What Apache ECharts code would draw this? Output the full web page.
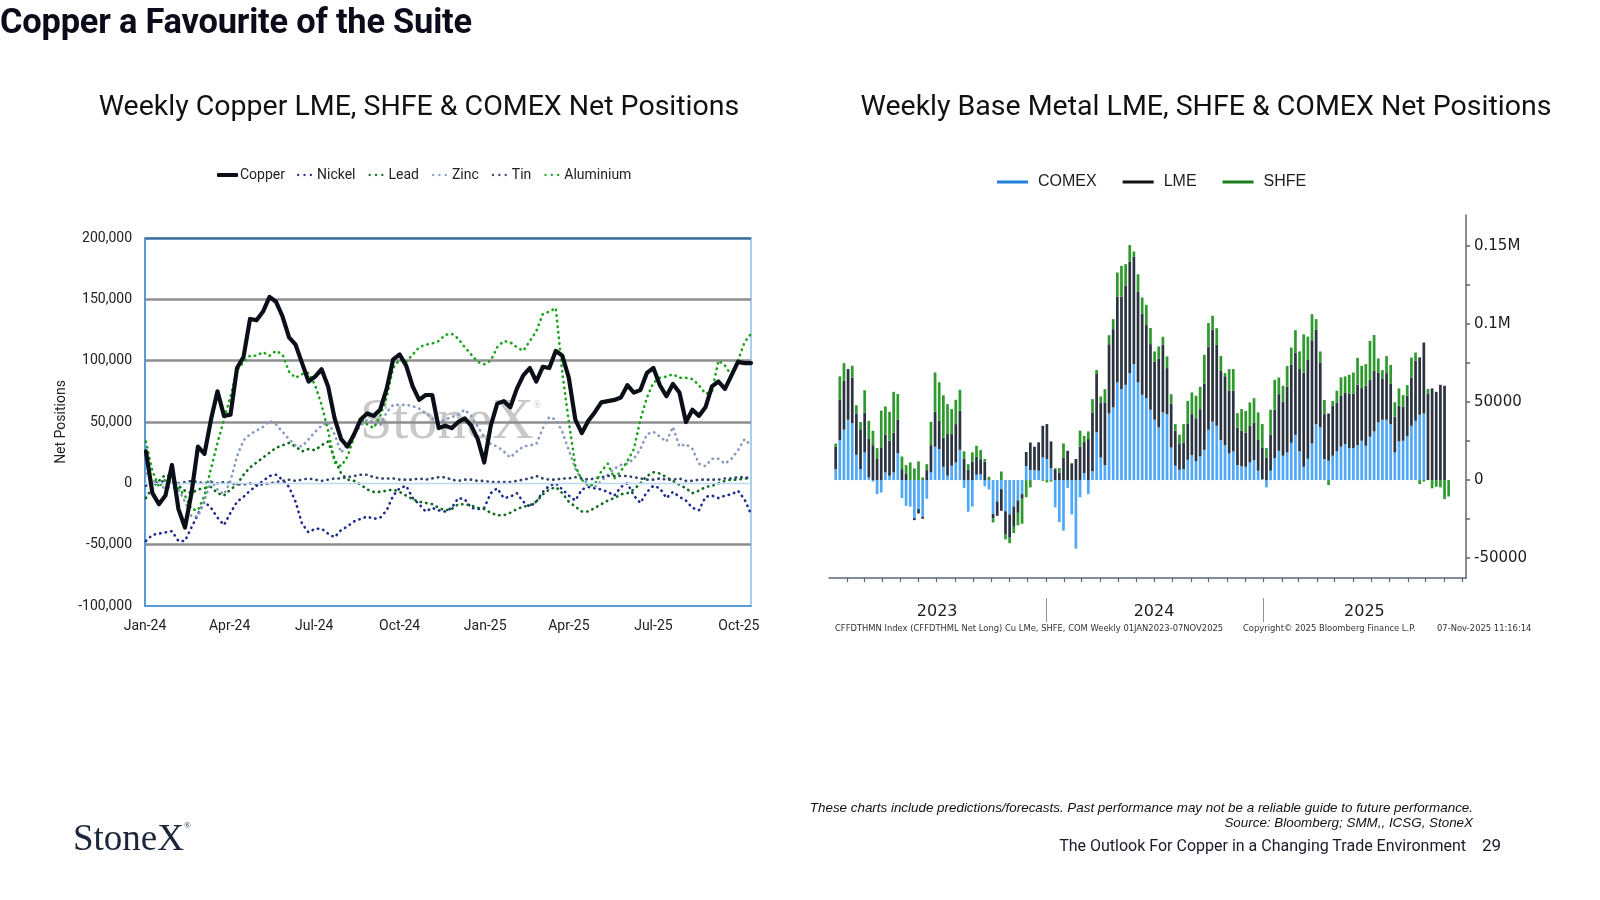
<!DOCTYPE html>
<html>
<head>
<meta charset="utf-8">
<script src="https://cdn.jsdelivr.net/npm/echarts@6.0.0/dist/echarts.min.js"></script>
<style>
html,body{margin:0;padding:0;background:#fff;}
body{width:1600px;height:900px;position:relative;overflow:hidden;}
#chart{position:absolute;left:0;top:0;width:1600px;height:900px;}
.t{position:absolute;white-space:nowrap;pointer-events:none;}
</style>
</head>
<body>
<div id="chart"></div>
<div class="t" style="left:0;top:1px;font:700 34.4px Roboto;letter-spacing:-0.2px;color:#0b0b1a;">Copper a Favourite of the Suite</div>
<div class="t" style="left:0;width:838px;top:89px;text-align:center;font:400 28.5px Roboto;color:#111;">Weekly Copper LME, SHFE &amp; COMEX Net Positions</div>
<div class="t" style="left:812px;width:788px;top:89px;text-align:center;font:400 28.5px Roboto;color:#111;">Weekly Base Metal LME, SHFE &amp; COMEX Net Positions</div>
<div class="t" style="left:835px;top:623px;font:8.4px 'DejaVu Sans';color:#333;">CFFDTHMN Index (CFFDTHML Net Long) Cu LMe, SHFE, COM Weekly 01JAN2023-07NOV2025</div>
<div class="t" style="left:1243px;top:623px;font:8.4px 'DejaVu Sans';color:#333;">Copyright© 2025 Bloomberg Finance L.P.</div>
<div class="t" style="left:1437px;top:623px;font:8.4px 'DejaVu Sans';color:#333;">07-Nov-2025 11:16:14</div>
<div class="t" style="right:127px;top:800px;font:italic 13.4px 'Liberation Sans';color:#111;text-align:right;">These charts include predictions/forecasts. Past performance may not be a reliable guide to future performance.</div>
<div class="t" style="right:127px;top:815px;font:italic 13.4px 'Liberation Sans';color:#111;text-align:right;">Source: Bloomberg; SMM,, ICSG, StoneX</div>
<div class="t" style="right:134px;top:836px;font:400 16px Roboto;color:#1a1a2a;">The Outlook For Copper in a Changing Trade Environment</div>
<div class="t" style="left:1482px;top:835px;font:400 17px Roboto;color:#1a1a2a;">29</div>
<div class="t" style="left:73px;top:816px;font:400 37px 'Liberation Serif';color:#1b2638;">StoneX<span style="font-size:9px;vertical-align:top;position:relative;top:4px;">®</span></div>
<script>
// ---------- Left chart data (weekly, from 2024-01-02) ----------
const cuStart = '2024-01-02';
const copper = [26000,-8000,-17000,-10000,15000,-21000,-36000,-8000,30000,24000,
52000,75000,55000,56000,94000,103000,134000,133000,140000,152000,
148000,136000,119000,113000,98000,83000,87000,93000,79000,53000,
36000,30000,40000,52000,57000,55000,60000,77000,101000,105000,
96000,79000,68000,72000,72000,45000,47000,45000,50000,53000,
47000,36000,17000,47000,65000,67000,62000,77000,88000,94000,
83000,95000,94000,108000,104000,86000,52000,41000,51000,58000,
66000,67000,68000,70000,80000,74000,76000,90000,94000,80000,
71000,81000,74000,50000,60000,55000,62000,79000,83000,77000,
88000,99000,98000,98000];
const nickel = [-47000,-42000,-41000,-40000,-39000,-47000,-47000,-36000,-25000,-15000,
-20000,-28000,-34000,-24000,-15000,-11000,-6000,-2000,2000,6000,
7000,3000,-3000,-15000,-33000,-40000,-37000,-37000,-41000,-44000,
-38000,-35000,-31000,-29000,-27000,-29000,-28000,-22000,-10000,-4000,
-2000,-12000,-17000,-23000,-20000,-22000,-23000,-20000,-12000,-13000,
-20000,-21000,-20000,-8000,-4000,-12000,-11000,-8000,-15000,-19000,
-15000,-7000,-2000,0,-5000,-10000,-14000,-5000,-3000,-4000,
-5000,-7000,-10000,-3000,0,-10000,-16000,-7000,-2000,-4000,
-12000,-7000,-11000,-14000,-20000,-22000,-11000,-10000,-12000,-10000,
-9000,-6000,-13000,-25000];
const lead = [-12000,-3000,2000,7000,5000,-2000,-6000,-8000,-5000,-4000,
-3000,-8000,-10000,-5000,-1000,7000,13000,17000,21000,25000,
29000,31000,33000,30000,26000,28000,27000,31000,34000,20000,
8000,3000,2000,-1000,-5000,-7000,-7000,-6000,-5000,-7000,
-10000,-13000,-15000,-16000,-17000,-20000,-22000,-21000,-17000,-17000,
-18000,-20000,-21000,-24000,-26000,-26000,-24000,-21000,-19000,-18000,
-15000,-9000,-5000,-3000,-8000,-15000,-19000,-23000,-23000,-20000,
-17000,-14000,-12000,-9000,-8000,-5000,0,6000,9000,8000,
5000,2000,-1000,-4000,-8000,-6000,-3000,-2000,0,2000,
3000,3000,4000,4000];
const zinc = [8000,3000,-2000,-4000,-3000,-5000,-15000,-27000,-27000,-14000,
2000,-5000,-9000,2000,22000,35000,40000,43000,46000,51000,
48000,42000,36000,31000,30000,36000,42000,47000,50000,40000,
25000,32000,40000,47000,52000,50000,47000,58000,64000,64000,
64000,63000,61000,57000,53000,50000,52000,54000,56000,60000,
55000,46000,38000,32000,30000,26000,21000,26000,30000,31000,
32000,45000,54000,52000,42000,27000,12000,3000,0,-3000,
2000,7000,12000,15000,16000,20000,28000,40000,42000,38000,
34000,46000,30000,32000,28000,16000,14000,20000,20000,16000,
20000,27000,36000,31000];
const tin = [-2000,0,1000,2000,1000,0,1000,2000,1000,0,
1000,0,1000,0,-1000,-1000,0,-1000,-1000,0,
1000,2000,3000,2000,3000,4000,3000,2000,3000,4000,
4000,5000,6000,7000,7000,5000,4000,4000,4000,3000,
3000,3000,4000,3000,4000,5000,5000,3000,2000,3000,
3000,2000,2000,1000,1000,1000,1000,2000,3000,4000,
6000,4000,3000,3000,4000,4000,5000,4000,3000,4000,
5000,6000,6000,6000,6000,5000,4000,3000,3000,4000,
3000,3000,4000,2000,2000,3000,3000,3000,3000,4000,
4000,5000,5000,4000];
const aluminium = [34000,10000,-3000,3000,1000,-4000,-10000,-21000,-22000,-10000,
12000,33000,52000,71000,92000,99000,104000,104000,107000,104000,
108000,105000,91000,86000,89000,90000,80000,64000,43000,17000,
14000,22000,38000,53000,48000,45000,55000,70000,94000,101000,
99000,105000,111000,113000,114000,116000,121000,122000,118000,111000,
105000,99000,97000,100000,111000,116000,115000,111000,108000,116000,
124000,138000,140000,143000,90000,50000,14000,3000,-2000,-1000,
10000,16000,4000,10000,18000,28000,52000,70000,82000,86000,
87000,89000,86000,86000,85000,80000,73000,75000,100000,96000,
88000,100000,115000,122000];
const leftTickLabels = ['-100,000','-50,000','0','50,000','100,000','150,000','200,000'];
const quarterDates = ['2024-01-01','2024-04-01','2024-07-01','2024-10-01','2025-01-01','2025-04-01','2025-07-01','2025-10-01'];
const quarterLabels = ['Jan-24','Apr-24','Jul-24','Oct-24','Jan-25','Apr-25','Jul-25','Oct-25'];

// ---------- Right chart data (weekly, from 2023-01-10) ----------
const cbStart = '2023-01-10';
const comex = [7000,25600,32300,38700,36500,16200,7000,17700,1700,-1000,
-9000,-8000,4900,2800,4900,17300,-11500,-16500,-17000,-24400,
-18600,-23500,-12000,4900,21400,19900,8500,2800,9200,11300,
19400,-5000,-20300,-17000,3400,3800,-4000,-6000,-21800,-13700,
-5800,-20000,-22000,-17000,-13000,-9000,9000,6400,6400,6000,
14500,13500,7700,-17500,-27000,-32500,-5000,-22000,-44000,-11000,
4500,-9000,5600,30600,14500,9600,42700,46600,62600,58300,
61100,68600,74400,62600,54700,52600,45100,38700,33800,43400,
42300,20900,9200,6600,7000,13000,16000,12000,15200,19400,
32300,37400,34800,25600,22400,17100,18400,9600,8800,8500,
11300,12800,6000,600,-4700,6000,14100,18800,15600,17700,
23900,29000,18400,8500,13700,23500,35900,33800,13500,12400,
15600,18400,21400,23100,20500,20500,22400,25200,22000,27800,
31200,37000,38700,38700,35900,17700,24800,25200,28000,34800,
38000,41900,42700,null,null,null,null,null,null];
const lme = [14300,25900,31400,32500,29300,26500,25600,25600,25000,22400,
13500,21000,24100,22400,25600,21400,7000,4300,0,-1300,
-2800,-1300,6400,17500,22400,18200,18800,26700,20300,24600,
25000,13900,6600,11800,11800,9600,11800,0,-2600,-9200,
-13900,-15000,-15000,-13000,-8000,-3000,9000,17700,15000,18200,
20300,22400,17100,7000,4900,14500,18800,10300,13500,21400,
20000,26300,37800,37400,35300,40200,44400,50200,55100,59400,
63500,71400,69000,58100,52100,46800,42100,37200,44200,43400,
29500,28200,22400,16500,17100,23300,26300,27600,30300,42500,
53200,59000,51900,44400,44200,40200,38900,24100,22900,22000,
23500,24100,19700,20300,14500,23100,31000,36300,34600,42300,
50000,52800,52800,60400,63300,66200,60700,41700,28800,30300,
32000,31400,32700,33100,35000,35000,38700,33800,38500,36500,
38900,32000,26500,29900,26100,23000,22900,21800,26100,31000,
38500,36800,45500,55600,58800,56600,61100,60500,null];
const shfe = [2100,15000,11300,0,7500,5300,4700,14300,11300,9200,
7000,23500,18200,18600,26100,16500,8100,5300,11300,7500,
12000,1700,3800,15000,25200,24600,27100,19200,16000,15600,
13500,4500,3600,6000,6800,5800,1700,2100,-2800,0,
5500,-3000,-3500,-4000,-8000,-16000,-11000,-4700,0,0,
-500,-1500,-1000,600,2800,9000,0,600,0,10300,
3800,4900,8500,2600,3800,8500,5800,6400,15400,19700,
13900,10700,3200,11300,10300,13000,10300,6600,7700,5100,
7500,6000,4300,6000,11800,14500,13900,14500,14300,18400,
15200,9000,10700,9600,2000,13900,13900,9200,13900,13900,
15000,15600,17700,15000,6000,16000,19200,10700,10300,13200,
11100,14300,11300,24600,15000,16700,6600,7000,9000,-3200,
3200,7500,11800,10300,12000,13500,17300,14300,13900,25000,
22900,9000,5300,10900,11800,9200,11100,7500,6800,12800,
5300,-2600,-1000,2800,-5300,-4300,-4700,-12200,-10500];
const rightTickVals = [-50000,-25000,0,25000,50000,75000,100000,125000,150000];
const rightLabelVals = [-50000,0,50000,100000,150000];
const rightLabelText = ['-50000','0','50000','0.1M','0.15M'];
const yearLabelDates = ['2023-07-02','2024-07-01','2025-06-20'];
const yearLabels = ['2023','2024','2025'];
const yearBoundaries = ['2024-01-01','2025-01-01'];

// ---------- helpers ----------
const DAY = 864e5;
function ts(s){const p=s.split('-').map(Number);return Date.UTC(p[0],p[1]-1,p[2]);}
function weekly(start,n){const t0=ts(start);const o=[];for(let i=0;i<n;i++)o.push(t0+7*i*DAY);return o;}
function zip(x,y){return y.map((v,i)=>[x[i], v]);}
const L0 = ts('2024-01-01');
const lday = t => Math.round((t-L0)/DAY);
const cuDays = weekly(cuStart, copper.length).map(lday);
const qDays = quarterDates.map(s=>lday(ts(s)));
const LMAX = lday(ts('2025-10-14'));
const R0 = ts('2023-01-01'), RMAXTS = ts('2025-12-08');
const rday = t => Math.round((t-R0)/DAY);
const RMAX = rday(RMAXTS);
const cbDates = weekly(cbStart, comex.length);
const monthDays = [];
for(let y=2023;y<=2025;y++)for(let m=0;m<12;m++){const d=rday(Date.UTC(y,m,1));if(d>0&&d<=RMAX)monthDays.push(d);}
const yDays = yearLabelDates.map(s=>rday(ts(s)));
const yBoundDays = yearBoundaries.map(s=>rday(ts(s)));

const dots = 'path://M0,1a1,1 0 1,0 2,0a1,1 0 1,0 -2,0zM5.5,1a1,1 0 1,0 2,0a1,1 0 1,0 -2,0zM11,1a1,1 0 1,0 2,0a1,1 0 1,0 -2,0z';
function dotted(color){return {color:color,width:2.6,type:[0.4,5.2],cap:'round',join:'round'};}
const txt = {fontFamily:'Roboto',fontSize:14,color:'#222'};

const chart = echarts.init(document.getElementById('chart'), null, {renderer:'canvas',width:1600,height:900});
chart.setOption({
  animation:false,
  backgroundColor:'#fff',
  grid:[
    {left:145,right:849,top:238,bottom:294,show:true,borderColor:'#8dc0ec',borderWidth:1.5,backgroundColor:'transparent',containLabel:false,outerBoundsMode:'none'},
    {left:829,right:134,top:215,bottom:322,show:false,containLabel:false,outerBoundsMode:'none'}
  ],
  legend:[
    {data:['Copper'],left:217,top:168,padding:0,itemWidth:21,itemHeight:4,icon:'roundRect',itemGap:0,selectedMode:false,textStyle:Object.assign({},txt,{padding:[0,0,0,-3]})},
    {data:[{name:'Nickel',itemStyle:{color:'#1c2a8e'}},{name:'Lead',itemStyle:{color:'#0d6b1d'}},{name:'Zinc',itemStyle:{color:'#8799bd'}},{name:'Tin',itemStyle:{color:'#2f4468'}},{name:'Aluminium',itemStyle:{color:'#19a319'}}],
     left:297,top:168,padding:0,itemWidth:15,itemHeight:3,icon:dots,itemGap:13,selectedMode:false,itemStyle:{borderWidth:0},textStyle:txt},
    {data:[{name:'COMEX',itemStyle:{color:'#1f80e0'}},{name:'LME',itemStyle:{color:'#111111'}},{name:'SHFE',itemStyle:{color:'#1b7d1b'}}],
     left:997,top:174,padding:0,itemWidth:31,itemHeight:3,icon:'rect',itemGap:26,selectedMode:false,
     textStyle:{fontFamily:'Liberation Sans',fontSize:16,color:'#1d1d1d',padding:[0,0,0,5]}}
  ],
  xAxis:[
    {type:'value',gridIndex:0,min:0,max:LMAX,
     axisLine:{show:true,onZero:false,lineStyle:{color:'#3f8ad0',width:1.5}},axisTick:{show:false},splitLine:{show:false},
     axisLabel:Object.assign({customValues:qDays,margin:13,formatter:v=>quarterLabels[qDays.indexOf(v)]||''},txt)},
    {type:'time',gridIndex:1,min:R0,max:RMAXTS,show:false,splitLine:{show:false}},
    {type:'value',gridIndex:1,min:0,max:RMAX,position:'bottom',
     axisLine:{show:true,onZero:false,lineStyle:{color:'#5b6877',width:1.5}},
     axisTick:{show:true,customValues:monthDays,length:4,lineStyle:{color:'#5b6877',width:1.2}},
     axisLabel:{show:false},splitLine:{show:false}},
    {type:'value',gridIndex:1,min:0,max:RMAX,position:'bottom',offset:20,
     axisLine:{show:false,onZero:false},
     axisTick:{show:true,customValues:yBoundDays,length:24,lineStyle:{color:'#8c939c',width:1}},
     axisLabel:{customValues:yDays,margin:6,formatter:v=>yearLabels[yDays.indexOf(v)]||'',fontFamily:'DejaVu Sans',fontSize:16,color:'#1d1d1d'},
     splitLine:{show:false}}
  ],
  yAxis:[
    {type:'value',gridIndex:0,min:-100000,max:200000,interval:50000,
     name:'Net Positions',nameLocation:'middle',nameGap:77,nameRotate:90,nameTextStyle:txt,
     axisLine:{show:true,onZero:false,lineStyle:{color:'#3f8ad0',width:1.5}},axisTick:{show:false},
     axisLabel:Object.assign({margin:13,formatter:(v,i)=>leftTickLabels[i]},txt),
     splitLine:{show:true,lineStyle:{width:2.5,color:['transparent','#8e8e8e','transparent','#8e8e8e','#8e8e8e','#8e8e8e','#3f6e9c']}}},
    {type:'value',gridIndex:1,position:'right',min:-62800,max:170000,
     axisLine:{show:true,onZero:false,lineStyle:{color:'#5b6877',width:1.5}},
     axisTick:{show:true,inside:false,customValues:rightTickVals,length:4,lineStyle:{color:'#5b6877',width:1.5}},
     axisLabel:{customValues:rightLabelVals,margin:8,formatter:v=>{const k=rightLabelVals.indexOf(v);return k>=0?rightLabelText[k]:'';},fontFamily:'DejaVu Sans',fontSize:15,color:'#1d1d1d'},
     splitLine:{show:false}}
  ],
  graphic:[
    {type:'text',left:360,top:394,z:0,silent:true,style:{text:'StoneX',font:'58px "Liberation Serif"',fill:'#c8c8c8'}},
    {type:'text',left:533,top:400,z:0,silent:true,style:{text:'®',font:'11px "Liberation Serif"',fill:'#c8c8c8'}}
  ],
  series:[
    {name:'Nickel',type:'line',xAxisIndex:0,yAxisIndex:0,data:zip(cuDays,nickel),showSymbol:false,symbol:'none',color:'#1c2a8e',lineStyle:dotted('#1c2a8e')},
    {name:'Lead',type:'line',xAxisIndex:0,yAxisIndex:0,data:zip(cuDays,lead),showSymbol:false,symbol:'none',color:'#0d6b1d',lineStyle:dotted('#0d6b1d')},
    {name:'Zinc',type:'line',xAxisIndex:0,yAxisIndex:0,data:zip(cuDays,zinc),showSymbol:false,symbol:'none',color:'#8799bd',lineStyle:dotted('#8799bd')},
    {name:'Tin',type:'line',xAxisIndex:0,yAxisIndex:0,data:zip(cuDays,tin),showSymbol:false,symbol:'none',color:'#2f4468',lineStyle:dotted('#2f4468'),
     markLine:{silent:true,symbol:'none',label:{show:false},lineStyle:{color:'#bcd8f2',width:1.3,type:'solid'},data:[{yAxis:0}]}},
    {name:'Aluminium',type:'line',xAxisIndex:0,yAxisIndex:0,data:zip(cuDays,aluminium),showSymbol:false,symbol:'none',color:'#19a319',lineStyle:dotted('#19a319')},
    {name:'Copper',type:'line',xAxisIndex:0,yAxisIndex:0,data:zip(cuDays,copper),showSymbol:false,symbol:'none',z:5,color:'#0b1018',lineStyle:{color:'#0b1018',width:4.2,join:'round',cap:'round'}},
    {name:'COMEX',type:'bar',xAxisIndex:1,yAxisIndex:1,stack:'cb',barWidth:2.7,data:zip(cbDates,comex),itemStyle:{color:'#4fa8f8'}},
    {name:'LME',type:'bar',xAxisIndex:1,yAxisIndex:1,stack:'cb',barWidth:2.7,data:zip(cbDates,lme),itemStyle:{color:'#2b3240'}},
    {name:'SHFE',type:'bar',xAxisIndex:1,yAxisIndex:1,stack:'cb',barWidth:2.7,data:zip(cbDates,shfe),itemStyle:{color:'#2e9a2e'}}
  ]
});
</script>
</body>
</html>
